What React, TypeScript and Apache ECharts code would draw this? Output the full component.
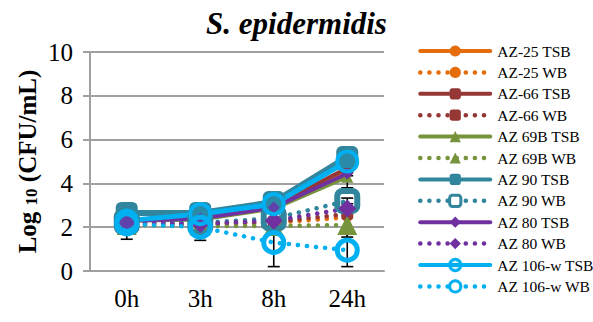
import React, { useEffect, useRef } from "react";
import * as echarts from "echarts";

// Sampling times
const categories = ["0h", "3h", "8h", "24h"];

// Mean log10 CFU/mL per strain and medium
const az25TSB = [2.35, 2.4, 2.9, 4.6];
const az25WB = [2.15, 2.1, 2.2, 2.45];
const az66TSB = [2.35, 2.45, 2.95, 4.7];
const az66WB = [2.2, 2.15, 2.25, 2.6];
const az69bTSB = [2.3, 2.35, 2.85, 4.3];
const az69bWB = [2.1, 2.05, 2.05, 2.1];
const az90TSB = [2.65, 2.65, 3.15, 5.2];
const az90WB = [2.25, 2.2, 2.4, 3.2];
const az80TSB = [2.3, 2.4, 2.9, 4.45];
const az80WB = [2.2, 2.15, 2.3, 2.85];
const az106TSB = [2.3, 2.6, 3.05, 5.0];
const az106WB = [2.15, 2.0, 1.3, 0.95];

// Standard deviations (0 = no bar)
const az25TSBErr = [0, 0, 0, 0.1];
const az25WBErr = [0, 0, 0, 0];
const az66TSBErr = [0, 0, 0, 0.1];
const az66WBErr = [0, 0, 0, 0];
const az69bTSBErr = [0, 0, 0, 0.5];
const az69bWBErr = [0, 0, 0, 0.55];
const az90TSBErr = [0, 0, 0, 0.1];
const az90WBErr = [0, 0, 0, 0.13];
const az80TSBErr = [0, 0, 0, 0.1];
const az80WBErr = [0, 0, 0, 0];
const az106TSBErr = [0, 0, 0, 0.1];
const az106WBErr = [0.7, 0.6, 1.1, 0.75];

const ORANGE = "#E46C0A";
const RED = "#953735";
const GREEN = "#77933C";
const TEAL = "#31859C";
const PURPLE = "#7030A0";
const CYAN = "#00B0F0";
const FONT = "Liberation Serif";
const CLEAR = "rgba(255,255,255,0)";

const DOTS = [0.1, 9];

type Def = {
  name: string;
  values: number[];
  errs: number[];
  color: string;
  dotted: boolean;
  symbol: string;
  size: number;
  width: number;
  fill?: string;
  border?: number;
};

const defs: Def[] = [
  { name: "AZ-25 TSB", values: az25TSB, errs: az25TSBErr, color: ORANGE, dotted: false, symbol: "circle", size: 8, width: 4 },
  { name: "AZ-25 WB", values: az25WB, errs: az25WBErr, color: ORANGE, dotted: true, symbol: "circle", size: 10, width: 4.5 },
  { name: "AZ-66 TSB", values: az66TSB, errs: az66TSBErr, color: RED, dotted: false, symbol: "roundRect", size: 12, width: 4 },
  { name: "AZ-66 WB", values: az66WB, errs: az66WBErr, color: RED, dotted: true, symbol: "roundRect", size: 12, width: 4.5 },
  { name: "AZ 69B TSB", values: az69bTSB, errs: az69bTSBErr, color: GREEN, dotted: false, symbol: "triangle", size: 12, width: 4 },
  { name: "AZ 69B WB", values: az69bWB, errs: az69bWBErr, color: GREEN, dotted: true, symbol: "triangle", size: 20, width: 4.5 },
  { name: "AZ 90 TSB", values: az90TSB, errs: az90TSBErr, color: TEAL, dotted: false, symbol: "roundRect", size: 22, width: 6 },
  { name: "AZ 90 WB", values: az90WB, errs: az90WBErr, color: TEAL, dotted: true, symbol: "roundRect", size: 20, width: 4.5, fill: CLEAR, border: 6 },
  { name: "AZ 80 TSB", values: az80TSB, errs: az80TSBErr, color: PURPLE, dotted: false, symbol: "diamond", size: 12, width: 4 },
  { name: "AZ 80 WB", values: az80WB, errs: az80WBErr, color: PURPLE, dotted: true, symbol: "diamond", size: 18, width: 4.5 },
  { name: "AZ 106-w TSB", values: az106TSB, errs: az106TSBErr, color: CYAN, dotted: false, symbol: "circle", size: 20, width: 5, fill: "rgba(0,176,240,0.15)", border: 4 },
  { name: "AZ 106-w WB", values: az106WB, errs: az106WBErr, color: CYAN, dotted: true, symbol: "circle", size: 20, width: 4.5, fill: CLEAR, border: 5 },
];

export default function App() {
  const ref = useRef<HTMLDivElement>(null);

  useEffect(() => {
    if (!ref.current) return;
    const chart = echarts.init(ref.current, null, { renderer: "svg" });

    const lineSeries = defs.map((d) => ({
      name: d.name,
      type: "line",
      z: 3,
      data: d.values,
      symbol: d.symbol,
      symbolSize: d.size,
      showAllSymbol: true,
      lineStyle: {
        color: d.color,
        width: d.width,
        type: d.dotted ? DOTS : "solid",
        cap: "round",
      },
      itemStyle: {
        color: d.fill ?? d.color,
        borderColor: d.color,
        borderWidth: d.border ?? 0,
      },
      emphasis: { disabled: true },
    }));

    // error bar rows: [category index, low, high]
    const errRows: number[][] = [];
    defs.forEach((d) => {
      d.values.forEach((v, i) => {
        if (d.errs[i] > 0) errRows.push([i, v - d.errs[i], v + d.errs[i]]);
      });
    });

    const errorSeries = {
      name: "errors",
      type: "custom",
      z: 2,
      silent: true,
      data: errRows,
      renderItem: (params: any, api: any) => {
        const x = api.value(0);
        const lo = api.coord([x, api.value(1)]);
        const hi = api.coord([x, api.value(2)]);
        const hw = 6;
        const style = { stroke: "#000", lineWidth: 1.6, fill: "none" };
        return {
          type: "group",
          children: [
            { type: "line", shape: { x1: lo[0], y1: lo[1], x2: hi[0], y2: hi[1] }, style },
            { type: "line", shape: { x1: lo[0] - hw, y1: lo[1], x2: lo[0] + hw, y2: lo[1] }, style },
            { type: "line", shape: { x1: hi[0] - hw, y1: hi[1], x2: hi[0] + hw, y2: hi[1] }, style },
          ],
        };
      },
    };

    const legendData = defs.map((d) => ({
      name: d.name,
      lineStyle: {
        color: d.color,
        width: d.dotted ? 4.5 : 4,
        type: d.dotted ? DOTS : "solid",
        cap: "round",
      },
      itemStyle: {
        color: d.fill === CLEAR ? "#ffffff" : d.fill ?? d.color,
        borderColor: d.color,
        borderWidth: d.border ? 3 : 0,
      },
    }));

    chart.setOption({
      animation: false,
      title: {
        text: "S. epidermidis",
        left: "center",
        top: 3,
        textStyle: {
          fontFamily: FONT,
          fontSize: 31,
          fontWeight: "bold",
          fontStyle: "italic",
          color: "#000",
        },
      },
      legend: {
        orient: "vertical",
        left: 413,
        top: 38,
        itemWidth: 70,
        itemHeight: 14,
        itemGap: 5.4,
        data: legendData,
        textStyle: { fontFamily: FONT, fontSize: 15.5, color: "#000", padding: [0, 0, 0, 2] },
        selectedMode: false,
      },
      grid: { left: 90, right: 209, top: 52, bottom: 51 },
      xAxis: {
        type: "category",
        data: categories,
        boundaryGap: true,
        axisLine: { show: true, lineStyle: { color: "#A0A0A0", width: 2 } },
        axisTick: { show: false },
        axisLabel: { fontFamily: FONT, fontSize: 25, color: "#000", margin: 15 },
        splitLine: { show: false },
      },
      yAxis: {
        type: "value",
        min: 0,
        max: 10,
        interval: 2,
        name: "{a|Log }{b|10}{a| (CFU/mL)}",
        nameLocation: "middle",
        nameGap: 50,
        nameRotate: 90,
        nameTextStyle: {
          rich: {
            a: { fontFamily: FONT, fontSize: 25, fontWeight: "bold", color: "#000", lineHeight: 26 },
            b: { fontFamily: FONT, fontSize: 17, fontWeight: "bold", color: "#000", verticalAlign: "bottom", lineHeight: 26, padding: [8, 0, 0, 0] },
          },
        },
        axisLine: { show: true, lineStyle: { color: "#A0A0A0", width: 2 } },
        axisTick: { show: true, inside: false, length: 7, lineStyle: { color: "#A0A0A0", width: 2 } },
        axisLabel: { fontFamily: FONT, fontSize: 25, color: "#000", margin: 17 },
        splitLine: { show: true, lineStyle: { color: "#A0A0A0", width: 2 } },
      },
      series: [...lineSeries, errorSeries],
    });

    return () => chart.dispose();
  }, []);

  return (
    <div
      ref={ref}
      style={{ position: "fixed", left: 0, top: 0, width: 593, height: 322, background: "#fff" }}
    />
  );
}
